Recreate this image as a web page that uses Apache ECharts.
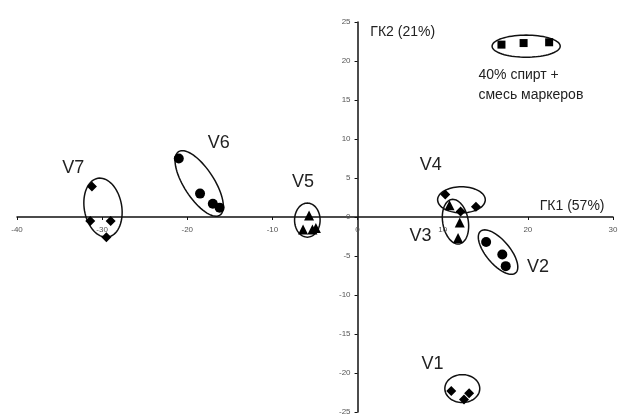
<!DOCTYPE html>
<html><head><meta charset="utf-8">
<script src="https://cdn.jsdelivr.net/npm/echarts@6/dist/echarts.min.js"></script>
<style>html,body{margin:0;padding:0;background:#fff}#c{width:619px;height:419px}</style>
</head><body><div id="c"></div>
<script>
// Data (PC1, PC2)
const circles = [[-21.0,7.5],[-18.5,3.0],[-17.0,1.7],[-16.2,1.2],[15.1,-3.2],[17.0,-4.8],[17.4,-6.3]];
const diamonds = [[-31.2,3.9],[-31.4,-0.5],[-29.0,-0.5],[-29.5,-2.6],[10.3,2.9],[12.1,0.7],[13.9,1.3],[11.0,-22.3],[13.1,-22.6],[12.5,-23.4]];
const triangles = [[-5.7,0.2],[-6.4,-1.6],[-5.3,-1.6],[-4.9,-1.4],[10.8,1.5],[12.0,-0.7],[11.8,-2.7]];
const squares = [[16.9,22.1],[19.5,22.3],[22.5,22.4]];
// ellipses: cx, cy, rx, ry (x-units), rotation deg
const ellipses = [[-29.9,1.2,2.2,3.5,-10],[-18.6,4.3,1.76,4.45,-33],[-5.9,-0.4,1.5,2.0,0],[12.2,2.2,2.8,1.53,0],[11.5,-0.6,1.5,2.65,-10],[16.5,-4.5,1.4,3.2,-40],[12.3,-22.0,2.05,1.64,0],[19.8,21.9,4.0,1.3,0]];
const groupLabels = [[-33.4,6.3,'V7'],[-16.3,9.5,'V6'],[-6.4,4.5,'V5'],[8.6,6.7,'V4'],[7.4,-2.5,'V3'],[21.2,-6.4,'V2'],[8.8,-18.9,'V1']];
const axisTitles = [[25.2,1.4,'ГК1 (57%)'],[5.3,23.7,'ГК2 (21%)']];
const noteLines = [[14.2,18.2,'40% спирт +'],[14.2,15.6,'смесь маркеров']];
const xTickLabels = [-40,-30,-20,-10,0,10,20,30];
const yTickLabels = [-25,-20,-15,-10,-5,0,5,10,15,20,25];
const xTicks = {min:-40,max:30,interval:10};
const yTicks = {min:-25,max:25,interval:5};

const chart = echarts.init(document.getElementById('c'));
const font = 'Liberation Sans, Arial, sans-serif';
function scatter(data, symbol, size){
  return {type:'scatter', data, symbol, symbolSize:size, itemStyle:{color:'#000', opacity:1}, z:3};
}
function textSeries(data, fontSize, align){
  return {type:'custom', data, z:4, renderItem:(p,api)=>{
    const c = api.coord([api.value(0), api.value(1)]);
    return {type:'text', x:c[0], y:c[1], style:{text:data[p.dataIndex][2], fontSize, fontFamily:font, fill:'#222', align, verticalAlign:'middle'}};
  }};
}
function tickLabelSeries(vals, isX){
  const data = vals.map(v => isX ? [v,0] : [0,v]);
  return {type:'custom', data, z:4, renderItem:(p,api)=>{
    const c = api.coord([api.value(0), api.value(1)]);
    const v = vals[p.dataIndex];
    return {type:'text', x: isX ? c[0] : c[0]-7, y: isX ? c[1]+13 : c[1],
      style:{text:String(v), fontSize:8, fontFamily:font, fill:'#555', align: isX?'center':'right', verticalAlign:'middle'}};
  }};
}
const axisCommon = {
  axisLine:{onZero:true, lineStyle:{color:'#111', width:1.5}},
  axisTick:{show:true, length:3, lineStyle:{color:'#111'}},
  axisLabel:{show:false},
  splitLine:{show:false}
};
chart.setOption({
  animation:false,
  grid:{left:17,right:6,top:22,bottom:7,containLabel:false,outerBoundsMode:'none'},
  xAxis:Object.assign({type:'value', min:xTicks.min, max:xTicks.max, interval:xTicks.interval}, axisCommon),
  yAxis:Object.assign({type:'value', min:yTicks.min, max:yTicks.max, interval:yTicks.interval}, axisCommon),
  series:[
    scatter(circles,'circle',10),
    scatter(diamonds,'diamond',10),
    scatter(triangles,'triangle',10),
    scatter(squares,'rect',8),
    {type:'custom', data:ellipses, z:2, renderItem:(p,api)=>{
      const c = api.coord([api.value(0), api.value(1)]);
      const s = api.size([1,0])[0];
      const a = api.value(2)*s, b = api.value(3)*s, t = api.value(4)*Math.PI/180;
      const pts = [];
      for(let i=0;i<72;i++){
        const th = i/72*2*Math.PI;
        const u = a*Math.cos(th), v = b*Math.sin(th);
        pts.push([c[0] + u*Math.cos(t) - v*Math.sin(t), c[1] + u*Math.sin(t) + v*Math.cos(t)]);
      }
      return {type:'polygon', shape:{points:pts}, style:{fill:'none', stroke:'#111', lineWidth:1.5}};
    }},
    textSeries(groupLabels,18,'center'),
    textSeries(axisTitles,14,'center'),
    textSeries(noteLines,14,'left'),
    tickLabelSeries(xTickLabels,true),
    tickLabelSeries(yTickLabels,false)
  ]
});
</script></body></html>
